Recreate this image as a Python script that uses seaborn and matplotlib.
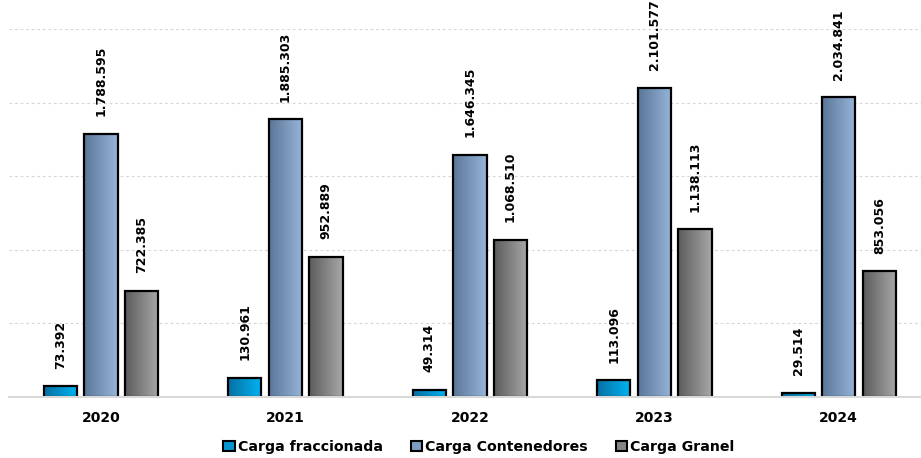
import numpy as np
import pandas as pd
import matplotlib
matplotlib.use("Agg")
import matplotlib.pyplot as plt
import seaborn as sns
from matplotlib.colors import LinearSegmentedColormap
from matplotlib.patches import Patch

# data
years = ["2020", "2021", "2022", "2023", "2024"]
series = ["Carga fraccionada", "Carga Contenedores", "Carga Granel"]
fraccionada = [73392, 130961, 49314, 113096, 29514]
contenedores = [1788595, 1885303, 1646345, 2101577, 2034841]
granel = [722385, 952889, 1068510, 1138113, 853056]

df = pd.DataFrame({
    "Año": years * 3,
    "Serie": [series[0]] * 5 + [series[1]] * 5 + [series[2]] * 5,
    "Valor": fraccionada + contenedores + granel,
})

# gradient colours (dark left -> light right)
grads = {
    series[0]: ("#0770a3", "#00b4f2"),
    series[1]: ("#5b7799", "#97b5da"),
    series[2]: ("#5c5c5c", "#a8a8a8"),
}
solid = {k: v[1] for k, v in grads.items()}
legend_cols = {series[0]: "#0596d0", series[1]: "#7d9cc2", series[2]: "#858585"}

sns.set_style("white")
plt.rcParams["font.family"] = ["DejaVu Sans"]
plt.rcParams["text.color"] = "black"
plt.rcParams["xtick.color"] = "black"

fig = plt.figure(figsize=(9.21, 4.58), dpi=100)
ax = fig.add_axes([8.75 / 921, 1 - 397 / 458, (931 - 8.75) / 921, (397 - 29) / 458])

sns.barplot(data=df, x="Año", y="Valor", hue="Serie", order=years,
            hue_order=series, palette=solid, width=0.66, gap=0.18,
            edgecolor="black", linewidth=1.6, legend=False, ax=ax)

# gradient fill inside each bar
bars = [p for p in ax.patches if p.get_height() > 0]
for i, p in enumerate(bars):
    s = series[i // 5]
    cmap = LinearSegmentedColormap.from_list(s, grads[s])
    x0, w, h = p.get_x(), p.get_width(), p.get_height()
    img = ax.imshow(np.linspace(0, 1, 64).reshape(1, -1), cmap=cmap,
                    extent=[x0, x0 + w, 0, h], aspect="auto", zorder=p.get_zorder() - 0.1)
    img.set_clip_path(p)
    p.set_facecolor("none")
    ax.annotate(f"{int(h):,}".replace(",", "."), (x0 + w / 2, h),
                xytext=(0, 12.5), textcoords="offset points", rotation=90,
                ha="center", va="bottom", fontsize=9, fontweight="bold",
                color="black", annotation_clip=False)

ax.set_xlim(-0.5, 4.5)
ax.set_ylim(0, 2500000)

# grid
ax.set_yticks(np.arange(0, 2500001, 500000))
ax.yaxis.grid(True, linestyle=(0, (2.5, 2.5)), color="#d6d6d6", linewidth=0.8)
ax.set_axisbelow(True)
ax.set_yticklabels([])
ax.tick_params(axis="y", length=0)
ax.tick_params(axis="x", length=0, pad=10)
for lab in ax.get_xticklabels():
    lab.set_fontweight("bold")
    lab.set_fontsize(10)
for s in ["top", "right", "left"]:
    ax.spines[s].set_visible(False)
ax.spines["bottom"].set_color("#d9d9d9")
ax.spines["bottom"].set_linewidth(1.5)
ax.set_xlabel("")
ax.set_ylabel("")

handles = [Patch(facecolor=legend_cols[s], edgecolor="black", linewidth=1.5, label=s)
           for s in series]
fig.legend(handles=handles, loc="center", bbox_to_anchor=(479 / 921, 1 - 447 / 458),
           ncol=3, frameon=False, handlelength=0.8, handleheight=0.8,
           handletextpad=0.2, columnspacing=2.0,
           prop={"weight": "bold", "size": 10.2})

fig.savefig("out.png", dpi=100)
